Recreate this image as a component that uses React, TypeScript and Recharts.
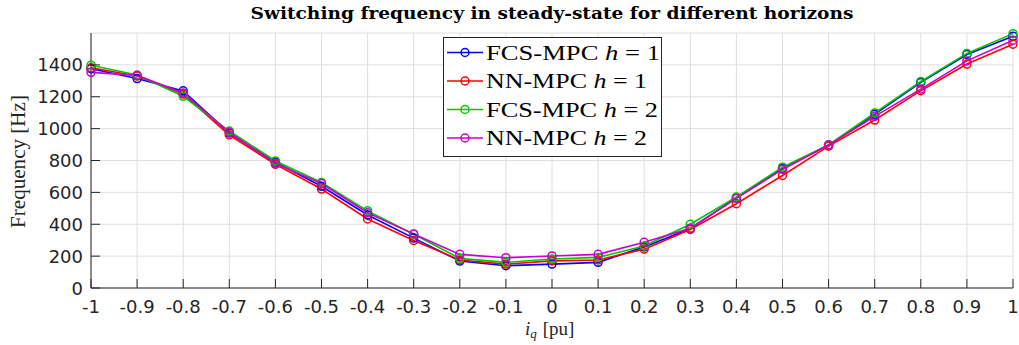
import React from "react";
import { LineChart, Line, XAxis, YAxis, CartesianGrid } from "recharts";

// iq [pu] on the x axis
const iq = [-1, -0.9, -0.8, -0.7, -0.6, -0.5, -0.4, -0.3, -0.2, -0.1, 0, 0.1, 0.2, 0.3, 0.4, 0.5, 0.6, 0.7, 0.8, 0.9, 1];

// switching frequency [Hz]
const fcsH1 = [1376, 1314, 1237, 972, 789, 638, 458, 313, 169, 140, 150, 161, 258, 373, 565, 752, 897, 1090, 1290, 1465, 1580];
const nnH1 = [1382, 1330, 1217, 960, 776, 621, 433, 298, 176, 150, 170, 176, 244, 367, 529, 706, 890, 1054, 1238, 1405, 1530];
const fcsH2 = [1398, 1336, 1203, 985, 797, 662, 484, 337, 186, 161, 182, 192, 264, 400, 571, 758, 898, 1098, 1296, 1472, 1596];
const nnH2 = [1353, 1334, 1224, 977, 782, 656, 472, 339, 211, 190, 201, 211, 287, 375, 562, 744, 897, 1077, 1248, 1425, 1555];

const yTicks = [0, 200, 400, 600, 800, 1000, 1200, 1400];

const series = [
  { key: "fcsH1", name: "FCS-MPC", h: 1, color: "#0000ff", values: fcsH1 },
  { key: "nnH1", name: "NN-MPC", h: 1, color: "#ff0000", values: nnH1 },
  { key: "fcsH2", name: "FCS-MPC", h: 2, color: "#00c800", values: fcsH2 },
  { key: "nnH2", name: "NN-MPC", h: 2, color: "#cc00cc", values: nnH2 },
];

const data = iq.map((x, i) => {
  const row: Record<string, number> = { iq: x };
  series.forEach((s) => {
    row[s.key] = s.values[i];
  });
  return row;
});

const AXIS = "#262626";
const TICK_LEN = 9;
const SANS = "DejaVu Sans";
const SERIF = "Liberation Serif";

const BottomTick = (props: any) => {
  const { x, y, payload } = props;
  return (
    <g>
      <line x1={x} y1={y} x2={x} y2={y - TICK_LEN} stroke={AXIS} />
      <text x={x} y={y + 25} textAnchor="middle" fill={AXIS} fontSize={18} fontFamily={SANS}>
        {String(payload.value)}
      </text>
    </g>
  );
};

const TopTick = (props: any) => {
  const { x, y } = props;
  return <line x1={x} y1={y} x2={x} y2={y + TICK_LEN} stroke={AXIS} />;
};

const LeftTick = (props: any) => {
  const { x, y, payload } = props;
  return (
    <g>
      <line x1={x} y1={y} x2={x + TICK_LEN} y2={y} stroke={AXIS} />
      <text x={x - 8} y={y + 6.5} textAnchor="end" fill={AXIS} fontSize={18} fontFamily={SANS}>
        {String(payload.value)}
      </text>
    </g>
  );
};

const RightTick = (props: any) => {
  const { x, y } = props;
  return <line x1={x} y1={y} x2={x - TICK_LEN} y2={y} stroke={AXIS} />;
};

const legendBaselines = [59.5, 88, 116.5, 145];
const legendWidths = [174, 161, 172, 161];

export default function App() {
  return (
    <div style={{ position: "absolute", left: 0, top: 0, width: 1019, height: 345, background: "#fff" }}>
      <LineChart
        width={1019}
        height={345}
        data={data}
        margin={{ top: 33, right: 6, bottom: 0, left: 0 }}
      >
        <CartesianGrid stroke="#dedede" strokeWidth={1} />
        <XAxis
          dataKey="iq"
          type="number"
          domain={[-1, 1]}
          ticks={iq}
          interval={0}
          height={57}
          tickSize={0}
          tickMargin={0}
          tickLine={false}
          axisLine={{ stroke: AXIS }}
          tick={<BottomTick />}
        />
        <XAxis
          xAxisId="top"
          orientation="top"
          dataKey="iq"
          type="number"
          domain={[-1, 1]}
          ticks={iq}
          interval={0}
          height={0}
          tickSize={0}
          tickMargin={0}
          tickLine={false}
          axisLine={{ stroke: AXIS }}
          tick={<TopTick />}
        />
        <YAxis
          type="number"
          domain={[0, 1600]}
          ticks={yTicks}
          interval={0}
          width={91}
          tickSize={0}
          tickMargin={0}
          tickLine={false}
          axisLine={{ stroke: AXIS }}
          tick={<LeftTick />}
        />
        <YAxis
          yAxisId="right"
          orientation="right"
          type="number"
          domain={[0, 1600]}
          ticks={yTicks}
          interval={0}
          width={0}
          tickSize={0}
          tickMargin={0}
          tickLine={false}
          axisLine={{ stroke: AXIS }}
          tick={<RightTick />}
        />
        {series.map((s) => (
          <Line
            key={s.key}
            dataKey={s.key}
            type="linear"
            stroke={s.color}
            strokeWidth={1.6}
            dot={{ r: 4, fill: "none", stroke: s.color, strokeWidth: 1.5 }}
            activeDot={false}
            isAnimationActive={false}
          />
        ))}
      </LineChart>
      <svg
        width={1019}
        height={345}
        style={{ position: "absolute", left: 0, top: 0, pointerEvents: "none" }}
      >
        <text
          x={552}
          y={19}
          textAnchor="middle"
          fontFamily="DejaVu Serif"
          fontWeight="bold"
          fontSize={16}
          fill="#000"
          textLength={603}
          lengthAdjust="spacingAndGlyphs"
        >
          Switching frequency in steady-state for different horizons
        </text>
        <text
          transform="translate(25,161.5) rotate(-90)"
          textAnchor="middle"
          fontFamily={SERIF}
          fontSize={20}
          fill={AXIS}
          textLength={133}
          lengthAdjust="spacingAndGlyphs"
        >
          Frequency [Hz]
        </text>
        <text x={525} y={335} fontFamily={SERIF} fontSize={19} fill={AXIS}>
          <tspan fontStyle="italic">i</tspan>
          <tspan fontStyle="italic" fontSize={13} dy={3}>q</tspan>
          <tspan dy={-3} dx={6}>[pu]</tspan>
        </text>
        <rect x={443.5} y={37.5} width={218} height={119} fill="#fff" stroke={AXIS} strokeWidth={1} />
        {series.map((s, i) => (
          <g key={s.key}>
            <line
              x1={447}
              x2={483}
              y1={legendBaselines[i] - 7}
              y2={legendBaselines[i] - 7}
              stroke={s.color}
              strokeWidth={1.6}
            />
            <circle cx={465} cy={legendBaselines[i] - 7} r={4} fill="none" stroke={s.color} strokeWidth={1.5} />
            <text
              x={486}
              y={legendBaselines[i]}
              fontFamily={SERIF}
              fontSize={21}
              fill="#000"
              textLength={legendWidths[i]}
              lengthAdjust="spacingAndGlyphs"
            >
              {s.name + " "}
              <tspan fontStyle="italic">h</tspan>
              {" = " + s.h}
            </text>
          </g>
        ))}
      </svg>
    </div>
  );
}
